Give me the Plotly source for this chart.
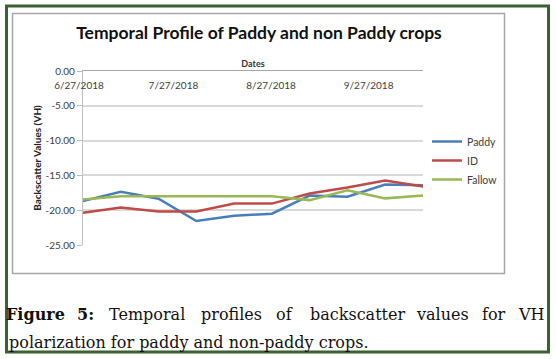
import plotly.graph_objects as go

# ---------------- data ----------------
dates = ["2018-06-27", "2018-07-09", "2018-07-21", "2018-08-02", "2018-08-14",
         "2018-08-26", "2018-09-07", "2018-09-19", "2018-10-01", "2018-10-13"]
paddy = [-18.70, -17.35, -18.35, -21.55, -20.80, -20.50, -17.90, -18.05, -16.30, -16.40]
id_vals = [-20.35, -19.60, -20.20, -20.20, -19.05, -19.05, -17.60, -16.75, -15.75, -16.60]
fallow = [-18.45, -18.00, -18.00, -18.00, -18.00, -18.00, -18.55, -17.15, -18.30, -17.90]

series_names = ["Paddy", "ID", "Fallow"]
y_tickvals = [0, -5, -10, -15, -20, -25]
y_ticktext = ["0.00", "-5.00", "-10.00", "-15.00", "-20.00", "-25.00"]

chart_title = "Temporal Profile of Paddy and non Paddy crops"
x_title = "Dates"
y_title = "Backscatter Values (VH)"
caption_line1 = ["Figure", "5:", "Temporal", "profiles", "of", "backscatter", "values", "for", "VH"]
caption_line2 = "polarization for paddy and non-paddy crops."

# ---------------- layout geometry (pixels) ----------------
W, H = 556, 359
PL, PR, PT, PB = 83, 423, 71, 245


def px(x):
    return (x - PL) / (PR - PL)


def py(y):
    return (PB - y) / (PB - PT)


colors = ["#4A7EBB", "#BE4B48", "#98B954"]
font_sans = "Lato, Open Sans, sans-serif"
font_serif = "DejaVu Serif, serif"
cap_size = 16

fig = go.Figure()
for name, vals, c in zip(series_names, [paddy, id_vals, fallow], colors):
    fig.add_trace(go.Scatter(x=dates, y=vals, mode="lines", name=name,
                             line=dict(color=c, width=2.5)))

fig.update_layout(
    width=W, height=H,
    margin=dict(l=PL, r=W - PR, t=PT, b=H - PB, autoexpand=False),
    paper_bgcolor="white", plot_bgcolor="white",
    showlegend=True,
    legend=dict(x=px(427), y=py(127), xanchor="left", yanchor="top",
                font=dict(family=font_sans, size=10.5, color="#404040"),
                bgcolor="rgba(0,0,0,0)", tracegroupgap=0, itemwidth=30),
    title=dict(text=chart_title, x=259 / W, y=1 - 33 / H, xanchor="center", yanchor="middle",
               xref="container", yref="container",
               font=dict(family=font_sans, size=17.5, color="#111111", weight="bold")),
)

fig.update_xaxes(
    type="date", range=["2018-06-27", "2018-10-13"],
    side="top", tick0="2018-06-27", dtick="M1", tickformat="%-m/%-d/%Y",
    ticklabelposition="inside", ticklabeloverflow="allow", ticklabelshift=-4,
    ticklabelstandoff=10,
    tickfont=dict(family=font_sans, size=10, color="#404040"),
    showgrid=False, showline=True, linecolor="#A6A6A6", linewidth=1.2,
    ticks="", zeroline=False,
    title=dict(text=x_title, standoff=9,
               font=dict(family=font_sans, size=9, color="#333333", weight="bold")),
)

fig.update_yaxes(
    range=[-25, 0], tickvals=y_tickvals, ticktext=y_ticktext,
    tickfont=dict(family=font_sans, size=10, color="#404040"),
    showgrid=True, gridcolor="#D9D9D9", gridwidth=1.5,
    showline=True, linecolor="#BFBFBF", linewidth=1.2,
    ticks="outside", ticklen=5, tickcolor="#BFBFBF", zeroline=False,
    title=dict(text=y_title, standoff=2,
               font=dict(family=font_sans, size=10, color="#222222", weight="bold")),
)

# borders
fig.add_shape(type="rect", xref="paper", yref="paper",
              x0=px(12.5), x1=px(504.5), y0=py(273.5), y1=py(13.5),
              line=dict(color="#A6A6A6", width=1.5), layer="below")
fig.add_shape(type="rect", xref="paper", yref="paper",
              x0=px(6.5), x1=px(548.5), y0=py(352), y1=py(6),
              line=dict(color="#3B6130", width=3), layer="above")

# caption line 1 (justified words)
word_centers = [35, 85, 146.5, 231, 284, 357, 442, 494, 531.5]
for i, (w, cx) in enumerate(zip(caption_line1, word_centers)):
    bold = i < 2
    fig.add_annotation(text=w, x=px(cx), y=py(314), xref="paper", yref="paper",
                       xanchor="center", yanchor="middle", showarrow=False,
                       font=dict(family=font_serif, size=cap_size, color="#111111",
                                 weight="bold" if bold else "normal"))
fig.add_annotation(text=caption_line2, x=px(7), y=py(342), xref="paper", yref="paper",
                   xanchor="left", yanchor="middle", showarrow=False,
                   font=dict(family=font_serif, size=cap_size, color="#111111"))

fig.write_html("out.html", config={"displayModeBar": False},
               post_script="document.body.style.margin='0';document.body.style.overflow='hidden';")
